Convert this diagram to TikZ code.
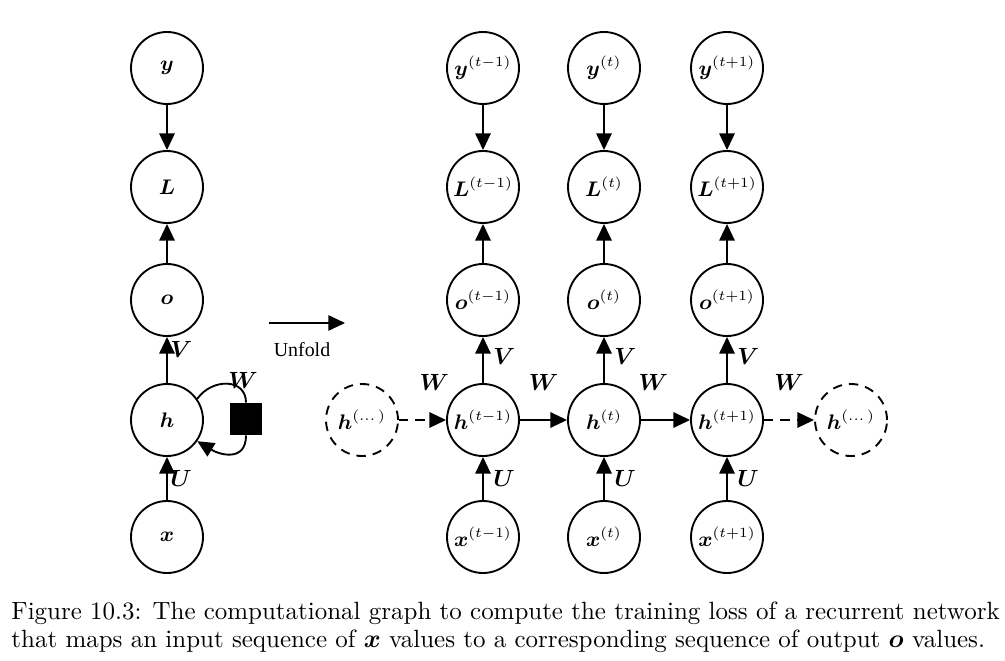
\documentclass[tikz,border=0pt]{standalone}
\usepackage{amsmath, amssymb}
\usepackage{bm}
\usepackage{fontspec}
\newfontfamily\unfoldfont{Liberation Serif}
\usepackage{tikz}
\usetikzlibrary{arrows.meta}
\tikzstyle{var}=[circle, draw, thick, minimum size=1.08cm, inner sep=0pt, font=\small]
\tikzstyle{ghost}=[var, dash pattern=on 4pt off 3pt]
\tikzstyle{edge}=[thick, -{Triangle[length=0.25cm, width=0.23cm]}]
\tikzstyle{ghostedge}=[edge, dash pattern=on 4pt off 3pt]
\tikzstyle{lbl}=[inner sep=1pt, font=\normalsize]

\begin{document}
\begin{tikzpicture}[x=0.015cm, y=-0.015cm]
	\useasboundingbox (0,0) rectangle (1005,661);
	% folded graph
	\node[var] (yf) at (167,68) {$\bm{y}$};
	\node[var] (Lf) at (167,187) {$\bm{L}$};
	\node[var] (of) at (167,300) {$\bm{o}$};
	\node[var] (hf) at (167,420) {$\bm{h}$};
	\node[var] (xf) at (167,537) {$\bm{x}$};
	\node[fill, minimum size=0.48cm, inner sep=0pt] (delay) at (246,419) {};
	\draw[edge] (yf) -- (Lf);
	\draw[edge] (of) -- (Lf);
	\draw[edge] (hf) -- node[lbl, right, pos=0.72] {$\bm{V}$} (of);
	\draw[edge] (xf) -- node[lbl, right, pos=0.5] {$\bm{U}$} (hf);
	\draw[thick] (hf.35) .. controls (212,378) and (246,378) .. (delay.north);
	\draw[edge] (delay.south) .. controls (246,462) and (220,455) .. (hf.-35);
	\node[lbl] (wf) at (243,380) {$\bm{W}$};
	% unfold arrow
	\coordinate (ua) at (269,323);
	\coordinate (ub) at (345,323);
	\draw[edge] (ua) -- (ub);
	\node (unf) at (302,350) {\unfoldfont\fontsize{8.5}{10}\selectfont Unfold};
	% unfolded graph
	\node[var] (y1) at (483,68) {$\bm{y}^{(t-1)}$};
	\node[var] (y2) at (604,68) {$\bm{y}^{(t)}$};
	\node[var] (y3) at (727,68) {$\bm{y}^{(t+1)}$};
	\node[var] (L1) at (483,187) {$\bm{L}^{(t-1)}$};
	\node[var] (L2) at (604,187) {$\bm{L}^{(t)}$};
	\node[var] (L3) at (727,187) {$\bm{L}^{(t+1)}$};
	\node[var] (o1) at (483,300) {$\bm{o}^{(t-1)}$};
	\node[var] (o2) at (604,300) {$\bm{o}^{(t)}$};
	\node[var] (o3) at (727,300) {$\bm{o}^{(t+1)}$};
	\node[ghost] (hl) at (362,420) {$\bm{h}^{(\dots)}$};
	\node[var] (h1) at (483,420) {$\bm{h}^{(t-1)}$};
	\node[var] (h2) at (604,420) {$\bm{h}^{(t)}$};
	\node[var] (h3) at (727,420) {$\bm{h}^{(t+1)}$};
	\node[ghost] (hr) at (851,420) {$\bm{h}^{(\dots)}$};
	\node[var] (x1) at (483,537) {$\bm{x}^{(t-1)}$};
	\node[var] (x2) at (604,537) {$\bm{x}^{(t)}$};
	\node[var] (x3) at (727,537) {$\bm{x}^{(t+1)}$};
	\draw[edge] (y1) -- (L1);
	\draw[edge] (y2) -- (L2);
	\draw[edge] (y3) -- (L3);
	\draw[edge] (o1) -- (L1);
	\draw[edge] (o2) -- (L2);
	\draw[edge] (o3) -- (L3);
	\draw[edge] (h1) -- node[lbl, right, pos=0.57, xshift=3pt] {$\bm{V}$} (o1);
	\draw[edge] (h2) -- node[lbl, right, pos=0.57, xshift=3pt] {$\bm{V}$} (o2);
	\draw[edge] (h3) -- node[lbl, right, pos=0.57, xshift=3pt] {$\bm{V}$} (o3);
	\draw[edge] (x1) -- node[lbl, right, pos=0.5, xshift=3pt] {$\bm{U}$} (h1);
	\draw[edge] (x2) -- node[lbl, right, pos=0.5, xshift=3pt] {$\bm{U}$} (h2);
	\draw[edge] (x3) -- node[lbl, right, pos=0.5, xshift=3pt] {$\bm{U}$} (h3);
	\draw[ghostedge] (hl) -- node[lbl, above=0.4cm, pos=0.75] {$\bm{W}$} (h1);
	\draw[edge] (h1) -- node[lbl, above=0.4cm, midway] {$\bm{W}$} (h2);
	\draw[edge] (h2) -- node[lbl, above=0.4cm, pos=0.25] {$\bm{W}$} (h3);
	\draw[ghostedge] (h3) -- node[lbl, above=0.4cm, midway] {$\bm{W}$} (hr);
	% caption
	\node[anchor=base west, inner sep=0pt, font=\fontsize{10.65}{13}\selectfont] (cap1) at (11,619) {Figure 10.3: The computational graph to compute the training loss of a recurrent network};
	\node[anchor=base west, inner sep=0pt, font=\fontsize{10.65}{13}\selectfont] (cap2) at (11,647) {that maps an input sequence of $\bm{x}$ values to a corresponding sequence of output $\bm{o}$ values.};
\end{tikzpicture}
\end{document}
